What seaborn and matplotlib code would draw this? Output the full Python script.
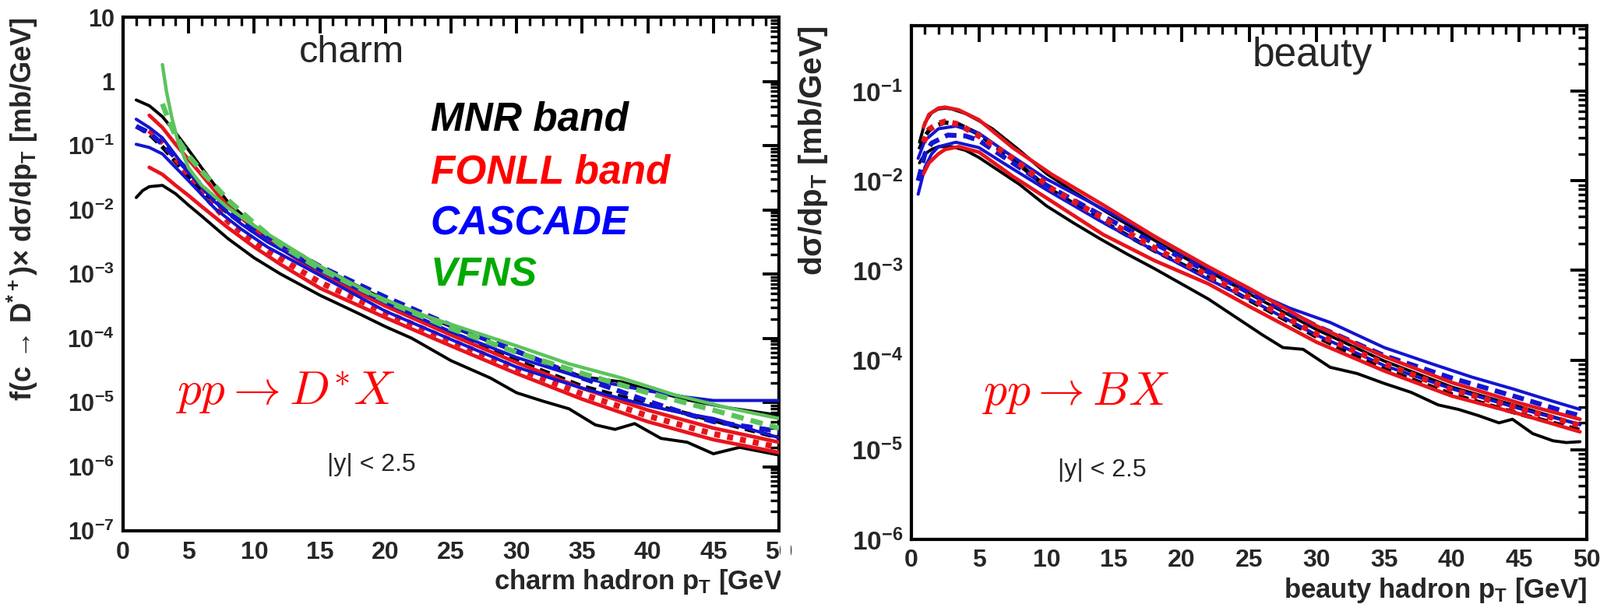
import numpy as np
import pandas as pd
import seaborn as sns
import matplotlib
matplotlib.use("Agg")
import matplotlib.pyplot as plt
from matplotlib.ticker import MultipleLocator, LogLocator, FuncFormatter, NullFormatter
from matplotlib.patches import Rectangle

# ---------------- data: log10( dsigma/dpT [mb/GeV] ) ----------------
# ---- charm panel ----
c_mnr_up_pt = [1, 2, 3, 4, 5, 6, 7, 8, 10, 12, 15, 18, 20, 25, 30, 35, 38, 40, 43, 46, 50]
c_mnr_up_lg = [-0.29, -0.38, -0.55, -0.80, -1.07, -1.35, -1.62, -1.88, -2.25, -2.52, -2.88, -3.20,
               -3.40, -3.82, -4.22, -4.60, -4.68, -4.80, -4.96, -5.08, -5.20]
c_mnr_c_pt = [1, 2, 3, 4, 5, 6, 8, 10, 12, 15, 20, 25, 30, 35, 40, 45, 50]
c_mnr_c_lg = [-0.70, -0.82, -1.02, -1.25, -1.48, -1.70, -2.05, -2.35, -2.60, -2.95, -3.45, -3.92,
              -4.35, -4.75, -5.02, -5.28, -5.55]
c_mnr_lo_pt = [1, 1.5, 2, 3, 4, 5, 6, 8, 10, 12, 15, 18, 20, 22, 25, 28, 30, 32, 34, 36, 37.5, 39,
               41, 43, 45, 47, 49, 50]
c_mnr_lo_lg = [-1.81, -1.70, -1.64, -1.62, -1.75, -1.93, -2.10, -2.45, -2.75, -3.00, -3.33, -3.62,
               -3.82, -4.00, -4.35, -4.62, -4.85, -4.98, -5.10, -5.35, -5.42, -5.33, -5.56, -5.62,
               -5.80, -5.70, -5.78, -5.82]

c_fonll_pt = [2, 3, 4, 5, 6, 8, 10, 12, 15, 20, 25, 30, 35, 40, 45, 50]
c_fonll_up_lg = [-0.53, -0.72, -0.98, -1.22, -1.46, -1.95, -2.30, -2.60, -3.00, -3.50, -3.95, -4.38,
                 -4.78, -5.12, -5.40, -5.62]
c_fonll_c_lg = [-0.76, -0.95, -1.20, -1.47, -1.73, -2.18, -2.50, -2.76, -3.13, -3.60, -4.04, -4.47,
                -4.87, -5.21, -5.49, -5.70]
c_fonll_lo_lg = [-1.34, -1.45, -1.62, -1.78, -1.95, -2.28, -2.58, -2.85, -3.22, -3.68, -4.12, -4.55,
                 -4.95, -5.30, -5.58, -5.78]

c_cas_pt = [1, 2, 3, 5, 7, 9, 11, 15, 20, 25, 30, 35, 40, 43, 45, 50]
c_cas_up_lg = [-0.59, -0.72, -0.88, -1.42, -1.88, -2.22, -2.50, -2.95, -3.45, -3.90, -4.30, -4.62,
               -4.82, -4.92, -4.97, -4.97]
c_cas_c_lg = [-0.70, -0.80, -0.98, -1.40, -1.85, -2.15, -2.42, -2.88, -3.36, -3.80, -4.20, -4.62,
              -4.98, -5.18, -5.30, -5.45]
c_cas_lo_lg = [-0.98, -1.03, -1.13, -1.55, -1.98, -2.30, -2.58, -3.02, -3.58, -4.02, -4.45, -4.78,
               -5.05, -5.18, -5.25, -5.55]

c_vfns_up_pt = [3.0, 3.3, 3.7, 4.2, 5, 6, 8, 10, 12, 15, 19, 23, 27, 30, 34, 38, 42, 46, 50]
c_vfns_up_lg = [0.26, -0.15, -0.55, -0.95, -1.35, -1.62, -1.97, -2.25, -2.50, -2.88, -3.32, -3.65,
                -3.92, -4.12, -4.40, -4.62, -4.88, -5.08, -5.25]
c_vfns_c_pt = [3.0, 3.5, 4, 5, 6, 8, 10, 12, 15, 20, 25, 30, 35, 40, 45, 50]
c_vfns_c_lg = [-0.35, -0.62, -0.85, -1.16, -1.40, -1.85, -2.21, -2.55, -2.92, -3.42, -3.85, -4.22,
               -4.55, -4.85, -5.12, -5.40]

# ---- beauty panel ----
b_mnr_up_pt = [0.6, 1, 1.5, 2, 2.5, 3, 4, 5, 6, 8, 10, 12, 15, 20, 25, 30, 35, 40, 45, 49.5]
b_mnr_up_lg = [-1.57, -1.35, -1.24, -1.20, -1.19, -1.20, -1.25, -1.33, -1.42, -1.66, -1.92, -2.12,
               -2.40, -2.84, -3.26, -3.66, -4.01, -4.30, -4.52, -4.72]
b_mnr_c_pt = [0.6, 1, 1.5, 2.5, 3.5, 5, 7.5, 10, 14, 18, 22, 25, 30, 35, 40, 45, 49.5]
b_mnr_c_lg = [-1.65, -1.50, -1.40, -1.35, -1.37, -1.48, -1.76, -2.07, -2.44, -2.78, -3.08, -3.33,
              -3.74, -4.10, -4.38, -4.60, -4.78]
b_mnr_lo_pt = [0.6, 1, 1.5, 2, 3, 4, 5, 6, 8, 10, 12, 14, 16, 18, 20, 22, 24, 26, 27.5, 29, 31, 33,
               35, 37, 39, 40.5, 42, 43.5, 44.5, 46, 47.5, 48.5, 49.5]
b_mnr_lo_lg = [-1.80, -1.70, -1.65, -1.62, -1.62, -1.66, -1.74, -1.84, -2.04, -2.28, -2.47, -2.65,
               -2.82, -2.98, -3.15, -3.32, -3.52, -3.72, -3.86, -3.88, -4.08, -4.15, -4.26, -4.36,
               -4.50, -4.55, -4.62, -4.70, -4.66, -4.82, -4.90, -4.92, -4.91]

b_fonll_pt = [0.9, 1.3, 2, 2.5, 3.5, 5, 7.5, 10.4, 14.2, 18, 22, 25, 30, 35, 40, 45, 49.5]
b_fonll_up_lg = [-1.40, -1.26, -1.19, -1.18, -1.21, -1.32, -1.63, -1.93, -2.27, -2.62, -2.96, -3.20,
                 -3.62, -3.96, -4.25, -4.48, -4.66]
b_fonll_c_lg = [-1.57, -1.43, -1.36, -1.34, -1.37, -1.50, -1.75, -2.09, -2.42, -2.75, -3.06, -3.30,
                -3.71, -4.04, -4.33, -4.54, -4.73]
b_fonll_lo_lg = [-1.92, -1.80, -1.70, -1.65, -1.62, -1.68, -1.95, -2.23, -2.60, -2.89, -3.15, -3.40,
                 -3.80, -4.12, -4.40, -4.60, -4.80]

b_cas_up_pt = [0.5, 1, 2, 3.3, 5, 7, 10, 14, 18, 22, 25, 28, 31, 35, 38.5, 41.5, 44.5, 47.5, 49.5]
b_cas_up_lg = [-1.75, -1.55, -1.42, -1.39, -1.47, -1.68, -1.98, -2.30, -2.62, -2.98, -3.22, -3.42,
               -3.58, -3.86, -4.04, -4.19, -4.32, -4.46, -4.55]
b_cas_c_pt = [0.5, 1, 1.5, 2.7, 4, 5, 7, 10, 14, 18, 22, 25, 30, 35, 40, 45, 48.5, 49.5]
b_cas_c_lg = [-2.00, -1.70, -1.58, -1.49, -1.50, -1.55, -1.75, -2.05, -2.38, -2.70, -3.02, -3.24,
              -3.62, -3.95, -4.20, -4.42, -4.58, -4.62]
b_cas_lo_pt = [0.5, 1, 1.5, 2, 3.3, 5, 7, 10, 14, 18, 22, 25, 30, 35, 40, 45, 49.5]
b_cas_lo_lg = [-2.15, -1.85, -1.70, -1.62, -1.57, -1.63, -1.82, -2.10, -2.45, -2.78, -3.10, -3.32,
               -3.72, -4.06, -4.32, -4.54, -4.72]

x_ticks = [0, 5, 10, 15, 20, 25, 30, 35, 40, 45, 50]
legend_labels = ["MNR band", "FONLL band", "CASCADE", "VFNS"]

# ---------------- style ----------------
sns.set_theme(style="white")
plt.rcParams.update({
    "font.weight": "bold",
    "mathtext.fontset": "custom",
    "mathtext.rm": "Liberation Sans",
    "mathtext.bf": "Liberation Sans:bold",
    "mathtext.it": "Liberation Sans:italic",
    "axes.linewidth": 3.0,
    "axes.edgecolor": "black",
    "axes.facecolor": "white",
    "figure.facecolor": "white",
})
plt.rcParams["font.family"] = ["Liberation Sans", "DejaVu Sans"]

BLACK = "#000000"
RED = "#e8141c"
BLUE = "#1414d2"
GREEN = "#5cc45c"
DOT = (0, (1.0, 1.2))
DASH = (0, (2.4, 1.4))

W, H = 2054, 785
fig = plt.figure(figsize=(W / 100, H / 100), dpi=100)
axL = fig.add_axes([158 / W, 1 - 682 / H, (1000 - 158) / W, (682 - 22) / H])
axR = fig.add_axes([1170 / W, 1 - 693 / H, (2037 - 1170) / W, (693 - 33) / H])


def draw(ax, pt, lg, color, ls="-", lw=2.8, z=2):
    y = np.power(10.0, np.asarray(lg, dtype=float))
    sns.lineplot(x=np.asarray(pt, dtype=float), y=y, ax=ax, color=color, linestyle=ls,
                 linewidth=lw, zorder=z, sort=False, estimator=None, legend=False,
                 dash_capstyle="butt", solid_capstyle="round")


# charm curves
draw(axL, c_mnr_up_pt, c_mnr_up_lg, BLACK)
draw(axL, c_mnr_c_pt, c_mnr_c_lg, BLACK, DASH, 4.0)
draw(axL, c_mnr_lo_pt, c_mnr_lo_lg, BLACK)
draw(axL, c_fonll_pt, c_fonll_up_lg, RED, "-", 3.4, 3)
draw(axL, c_fonll_pt, c_fonll_lo_lg, RED, "-", 3.4, 3)
draw(axL, c_fonll_pt, c_fonll_c_lg, RED, DOT, 5.5, 3)
draw(axL, c_cas_pt, c_cas_up_lg, BLUE, "-", 2.9, 4)
draw(axL, c_cas_pt, c_cas_lo_lg, BLUE, "-", 2.9, 4)
draw(axL, c_cas_pt, c_cas_c_lg, BLUE, DASH, 4.5, 4)
draw(axL, c_vfns_up_pt, c_vfns_up_lg, GREEN, "-", 3.2, 5)
draw(axL, c_vfns_c_pt, c_vfns_c_lg, GREEN, DASH, 4.8, 5)

# beauty curves
draw(axR, b_mnr_up_pt, b_mnr_up_lg, BLACK)
draw(axR, b_mnr_c_pt, b_mnr_c_lg, BLACK, DASH, 4.0)
draw(axR, b_mnr_lo_pt, b_mnr_lo_lg, BLACK)
draw(axR, b_cas_up_pt, b_cas_up_lg, BLUE, "-", 2.9, 3)
draw(axR, b_cas_lo_pt, b_cas_lo_lg, BLUE, "-", 2.9, 3)
draw(axR, b_cas_c_pt, b_cas_c_lg, BLUE, DASH, 4.5, 3)
draw(axR, b_fonll_pt, b_fonll_up_lg, RED, "-", 3.4, 4)
draw(axR, b_fonll_pt, b_fonll_lo_lg, RED, "-", 3.4, 4)
draw(axR, b_fonll_pt, b_fonll_c_lg, RED, DOT, 5.5, 4)


def yfmt(v, pos):
    e = int(round(np.log10(v)))
    if e == 1:
        return "10"
    if e == 0:
        return "1"
    return r"$\mathbf{10^{%d}}$" % e


for ax, ylim, ysize in ((axL, (1e-7, 10.0), 22), (axR, (1e-6, 10 ** -0.27), 24)):
    ax.set_yscale("log")
    ax.set_xlim(0, 50)
    ax.set_ylim(*ylim)
    ax.set_xticks(x_ticks)
    ax.xaxis.set_minor_locator(MultipleLocator(1))
    ax.yaxis.set_major_locator(LogLocator(base=10, numticks=30))
    ax.yaxis.set_minor_locator(LogLocator(base=10, subs=np.arange(2, 10), numticks=200))
    ax.yaxis.set_major_formatter(FuncFormatter(yfmt))
    ax.yaxis.set_minor_formatter(NullFormatter())
    ax.tick_params(which="major", direction="in", length=15, width=2.8, top=True, right=True,
                   color="black")
    ax.tick_params(which="minor", direction="in", length=8, width=2.4, top=True, right=True,
                   color="black")
    ax.tick_params(axis="x", which="major", labelsize=23, pad=9)
    ax.tick_params(axis="y", which="major", labelsize=ysize, pad=8)
    ax.grid(False)
    ax.set_xlabel("")
    ax.set_ylabel("")
    for s in ax.spines.values():
        s.set_linewidth(3.0)
        s.set_color("black")

# axis titles
axL.text(1.018, -0.114, r"charm hadron p$_{\mathbf{T}}$ [GeV]", transform=axL.transAxes,
         ha="right", va="baseline", fontsize=25, fontweight="bold")
axR.text(1.0, -0.114, r"beauty hadron p$_{\mathbf{T}}$ [GeV]", transform=axR.transAxes,
         ha="right", va="baseline", fontsize=25, fontweight="bold")
axL.set_ylabel(r"f(c → D$^{\mathbf{*+}}$)× dσ/dp$_{\mathbf{T}}$ [mb/GeV]", fontsize=26,
               fontweight="bold", loc="top")
axL.yaxis.set_label_coords(-0.127, 1.0)
axR.set_ylabel(r"dσ/dp$_{\mathbf{T}}$ [mb/GeV]", fontsize=29, fontweight="bold", loc="top")
axR.yaxis.set_label_coords(-0.121, 1.0)

# panel annotations
axL.text(0.348, 0.912, "charm", transform=axL.transAxes, ha="center", va="baseline",
         fontsize=35, fontweight="normal")
axR.text(0.594, 0.921, "beauty", transform=axR.transAxes, ha="center", va="baseline",
         fontsize=37, fontweight="normal")

leg_colors = [BLACK, "#ff0000", "#0000ff", "#00aa00"]
leg_y = [0.780, 0.677, 0.576, 0.477]
for lab, col, yy in zip(legend_labels, leg_colors, leg_y):
    axL.text(0.469, yy, lab, transform=axL.transAxes, ha="left", va="baseline", fontsize=37,
             fontweight="bold", fontstyle="italic", color=col)

axL.text(0.080, 0.245, r"$pp \rightarrow D^{*}X$", transform=axL.transAxes, ha="left",
         va="baseline", fontsize=44, color="#ff0000", math_fontfamily="cm")
axR.text(0.104, 0.262, r"$pp \rightarrow BX$", transform=axR.transAxes, ha="left",
         va="baseline", fontsize=43, color="#ff0000", math_fontfamily="cm")

axL.text(0.311, 0.117, "|y| < 2.5", transform=axL.transAxes, ha="left", va="baseline",
         fontsize=23, fontweight="normal")
axR.text(0.217, 0.123, "|y| < 2.5", transform=axR.transAxes, ha="left", va="baseline",
         fontsize=23, fontweight="normal")

# the left panel is cropped at its right edge in the original picture
fig.add_artist(Rectangle((1002 / W, 0), (1015 - 1002) / W, 1, transform=fig.transFigure,
                         facecolor="white", edgecolor="none", zorder=100))

fig.savefig("out.png", dpi=100)
